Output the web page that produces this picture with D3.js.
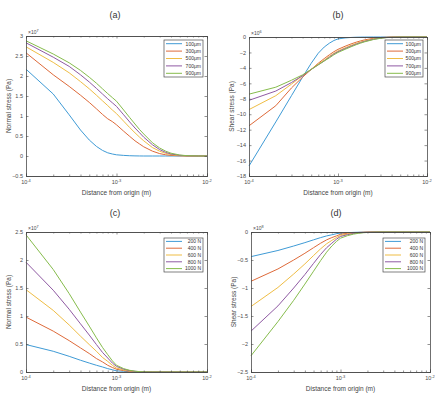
<!DOCTYPE html>
<html><head><meta charset="utf-8">
<script src="https://cdn.jsdelivr.net/npm/d3@7"></script>
<style>body{margin:0;background:#fff}svg{display:block;font-family:"Liberation Sans",Arial,sans-serif}</style>
</head><body><svg id="c" width="446" height="401"></svg>
<script>
// x positions (m)
const xA = [1e-4,2e-4,3e-4,4e-4,5e-4,6e-4,7e-4,8e-4,9e-4,1e-3,
            1.2e-3,1.4e-3,1.6e-3,1.8e-3,2e-3,2.5e-3,3e-3,3.5e-3,4e-3,5e-3,6e-3,8e-3,1e-2];
const xTickLabels = ["10","10","10"];
const xTickExp = ["-4","-3","-2"];
const legendA = ["100μm","300μm","500μm","700μm","900μm"];
const legendC = ["200 N","400 N","600 N","800 N","1000 N"];
const colors = ["#3f9bd6","#de6a3a","#efbd45","#8f5aa3","#86bc4c"];

// (a) Normal stress, ×10^7 Pa
const a100 = [2.17,1.55,1.03,0.65,0.40,0.24,0.14,0.08,0.05,0.03, 0.015,0.007,0.003,0.001,0,0,0,0,0,0,0,0,0];
const a300 = [2.58,2.03,1.74,1.52,1.34,1.18,1.04,0.93,0.86,0.78, 0.62,0.49,0.38,0.30,0.23,0.12,0.06,0.03,0.015,0.004,0,0,0];
const a500 = [2.73,2.34,2.08,1.86,1.68,1.52,1.38,1.26,1.15,1.06, 0.87,0.71,0.58,0.47,0.38,0.21,0.12,0.065,0.035,0.01,0.003,0,0];
const a700 = [2.83,2.47,2.24,2.03,1.85,1.69,1.55,1.43,1.33,1.24, 1.03,0.85,0.70,0.58,0.47,0.28,0.16,0.09,0.05,0.018,0.005,0,0];
const a900 = [2.88,2.55,2.33,2.14,1.97,1.82,1.68,1.56,1.46,1.37, 1.15,0.96,0.80,0.66,0.55,0.33,0.20,0.12,0.07,0.025,0.008,0.001,0];
// (b) Shear stress, ×10^6 Pa
const b100 = [-16.7,-11.0,-7.6,-5.2,-3.4,-2.1,-1.3,-0.8,-0.45,-0.25, -0.12,-0.06,-0.03,-0.015,-0.01,0,0,0,0,0,0,0,0];
const b300 = [-11.5,-8.9,-6.6,-5.2,-4.2,-3.4,-2.8,-2.3,-1.9,-1.6, -1.2,-0.9,-0.67,-0.5,-0.37,-0.17,-0.07,-0.03,-0.012,0,0,0,0];
const b500 = [-9.4,-7.6,-6.1,-5.0,-4.2,-3.5,-3.0,-2.5,-2.1,-1.8, -1.4,-1.08,-0.83,-0.64,-0.49,-0.24,-0.11,-0.05,-0.02,-0.005,0,0,0];
const b700 = [-8.2,-7.0,-5.9,-5.0,-4.2,-3.6,-3.1,-2.6,-2.2,-1.9, -1.5,-1.18,-0.92,-0.72,-0.56,-0.29,-0.14,-0.07,-0.03,-0.008,0,0,0];
const b900 = [-7.4,-6.5,-5.6,-4.9,-4.2,-3.6,-3.1,-2.7,-2.3,-2.0, -1.6,-1.27,-1.0,-0.79,-0.62,-0.33,-0.17,-0.08,-0.04,-0.01,-0.003,0,0];
// (c) Normal stress, ×10^7 Pa
const c200 = [0.49,0.37,0.28,0.21,0.16,0.12,0.09,0.06,0.04,0.02, 0.012,0.006,0.003,0.001,0,0,0,0,0,0,0,0,0];
const c400 = [0.98,0.73,0.56,0.43,0.33,0.24,0.18,0.12,0.08,0.05, 0.024,0.012,0.006,0.003,0.001,0,0,0,0,0,0,0,0];
const c600 = [1.47,1.10,0.84,0.64,0.49,0.37,0.26,0.19,0.12,0.07, 0.036,0.018,0.009,0.004,0.002,0,0,0,0,0,0,0,0];
const c800 = [1.96,1.46,1.12,0.86,0.66,0.49,0.35,0.25,0.16,0.10, 0.05,0.024,0.012,0.006,0.002,0,0,0,0,0,0,0,0];
const c1000 = [2.45,1.83,1.40,1.07,0.82,0.61,0.44,0.31,0.20,0.12, 0.06,0.03,0.015,0.007,0.003,0,0,0,0,0,0,0,0];
// (d) Shear stress, ×10^8 Pa
const d200 = [-0.44,-0.33,-0.25,-0.19,-0.14,-0.10,-0.07,-0.05,-0.03,-0.02, -0.012,-0.007,-0.004,-0.002,-0.001,0,0,0,0,0,0,0,0];
const d400 = [-0.88,-0.66,-0.50,-0.38,-0.28,-0.20,-0.14,-0.10,-0.07,-0.04, -0.023,-0.013,-0.008,-0.004,-0.002,0,0,0,0,0,0,0,0];
const d600 = [-1.33,-0.99,-0.75,-0.57,-0.42,-0.30,-0.21,-0.15,-0.10,-0.06, -0.035,-0.02,-0.012,-0.007,-0.004,-0.001,0,0,0,0,0,0,0];
const d800 = [-1.77,-1.32,-1.00,-0.76,-0.56,-0.40,-0.28,-0.20,-0.13,-0.08, -0.047,-0.027,-0.016,-0.009,-0.005,-0.001,0,0,0,0,0,0,0];
const d1000 = [-2.21,-1.60,-1.22,-0.93,-0.70,-0.51,-0.36,-0.25,-0.17,-0.11, -0.065,-0.038,-0.022,-0.013,-0.008,-0.002,0,0,0,0,0,0,0];

const yTicksA = [-0.5,0,0.5,1,1.5,2,2.5,3];
const yTicksB = [-18,-16,-14,-12,-10,-8,-6,-4,-2,0];
const yTicksC = [0,0.5,1,1.5,2,2.5];
const yTicksD = [-2.5,-2,-1.5,-1,-0.5,0];

const panels = [
  {title:"(a)", tx:115, ty:18, box:[26,207,36,176], yDom:[-0.5,3], yTicks:yTicksA, exp:"7",
   ylabel:"Normal stress (Pa)", series:[a100,a300,a500,a700,a900], legend:legendA, leg:[164,40,39,37]},
  {title:"(b)", tx:338, ty:18, box:[249,427,37,176], yDom:[-18,0], yTicks:yTicksB, exp:"6",
   ylabel:"Shear stress (Pa)", series:[b100,b300,b500,b700,b900], legend:legendA, leg:[385,40,38,37]},
  {title:"(c)", tx:115, ty:216, box:[26,207,232,372], yDom:[0,2.5], yTicks:yTicksC, exp:"7",
   ylabel:"Normal stress (Pa)", series:[c200,c400,c600,c800,c1000], legend:legendC, leg:[164,238,39,34]},
  {title:"(d)", tx:336, ty:216, box:[251,430,232,372], yDom:[-2.5,0], yTicks:yTicksD, exp:"8",
   ylabel:"Shear stress (Pa)", series:[d200,d400,d600,d800,d1000], legend:legendC, leg:[383,238,42,34]}
];

const svg = d3.select("#c");
const ink = "#4a4a4a";
const minor = [];
[1e-4,1e-3].forEach(d=>{for(let k=2;k<=9;k++) minor.push(d*k);});
const major = [1e-4,1e-3,1e-2];

panels.forEach(p=>{
  const [L,R,T,B] = p.box;
  const g = svg.append("g");
  const x = d3.scaleLog().domain([1e-4,1e-2]).range([L,R]);
  const y = d3.scaleLinear().domain(p.yDom).range([B,T]);
  g.append("text").attr("x",p.tx).attr("y",p.ty).attr("text-anchor","middle")
    .attr("font-size",9).attr("fill","#333").text(p.title);
  const line = d3.line().x((d,i)=>x(xA[i])).y(d=>y(d));
  p.series.forEach((s,i)=>{
    g.append("path").attr("d",line(s)).attr("fill","none").attr("stroke",colors[i]).attr("stroke-width",1);
  });
  const bot = d3.axisBottom(x).tickValues(major).tickSize(-2.5).tickFormat("");
  const top = d3.axisTop(x).tickValues(major).tickSize(-2.5).tickFormat("");
  const botMin = d3.axisBottom(x).tickValues(minor).tickSize(-1.5).tickFormat("");
  const topMin = d3.axisTop(x).tickValues(minor).tickSize(-1.5).tickFormat("");
  const left = d3.axisLeft(y).tickValues(p.yTicks).tickSize(-2.5).tickPadding(3).tickFormat(d3.format("~g"));
  const right = d3.axisRight(y).tickValues(p.yTicks).tickSize(-2.5).tickFormat("");
  [[bot,`translate(0,${B})`],[botMin,`translate(0,${B})`],[top,`translate(0,${T})`],[topMin,`translate(0,${T})`],
   [left,`translate(${L},0)`],[right,`translate(${R},0)`]].forEach(([ax,tr])=>{
    const a = g.append("g").attr("transform",tr).call(ax);
    a.selectAll("path.domain").attr("stroke",ink).attr("stroke-width",0.8);
    a.selectAll(".tick line").attr("stroke",ink).attr("stroke-width",0.6);
    a.selectAll("text").attr("font-size",5.5).attr("fill",ink).attr("font-family","Liberation Sans, Arial, sans-serif");
  });
  major.forEach((v,i)=>{
    const t = g.append("text").attr("x",x(v)).attr("y",B+8).attr("text-anchor","middle")
      .attr("font-size",5.5).attr("fill",ink);
    t.append("tspan").text(xTickLabels[i]);
    t.append("tspan").attr("dy",-2.5).attr("font-size",4).text(xTickExp[i]);
  });
  g.append("text").attr("x",(L+R)/2).attr("y",B+19).attr("text-anchor","middle")
    .attr("font-size",6.5).attr("fill","#444").text("Distance from origin (m)");
  g.append("text").attr("transform",`translate(${L-15},${(T+B)/2}) rotate(-90)`).attr("text-anchor","middle")
    .attr("font-size",6.5).attr("fill","#444").text(p.ylabel);
  const e = g.append("text").attr("x",L+2).attr("y",T-2).attr("font-size",5).attr("fill",ink);
  e.append("tspan").text("×10");
  e.append("tspan").attr("dy",-2).attr("font-size",3.8).text(p.exp);
  const [lx,ly,lw,lh] = p.leg;
  g.append("rect").attr("x",lx).attr("y",ly).attr("width",lw).attr("height",lh)
    .attr("fill","#fff").attr("stroke",ink).attr("stroke-width",0.7);
  const rh = lh/5;
  p.legend.forEach((lab,i)=>{
    const cy = ly + rh*(i+0.5);
    g.append("line").attr("x1",lx+2).attr("x2",lx+18).attr("y1",cy).attr("y2",cy)
      .attr("stroke",colors[i]).attr("stroke-width",1);
    g.append("text").attr("x",lx+lw-2).attr("y",cy+1.8).attr("text-anchor","end")
      .attr("font-size",5).attr("fill","#333").text(lab);
  });
});
</script></body></html>
